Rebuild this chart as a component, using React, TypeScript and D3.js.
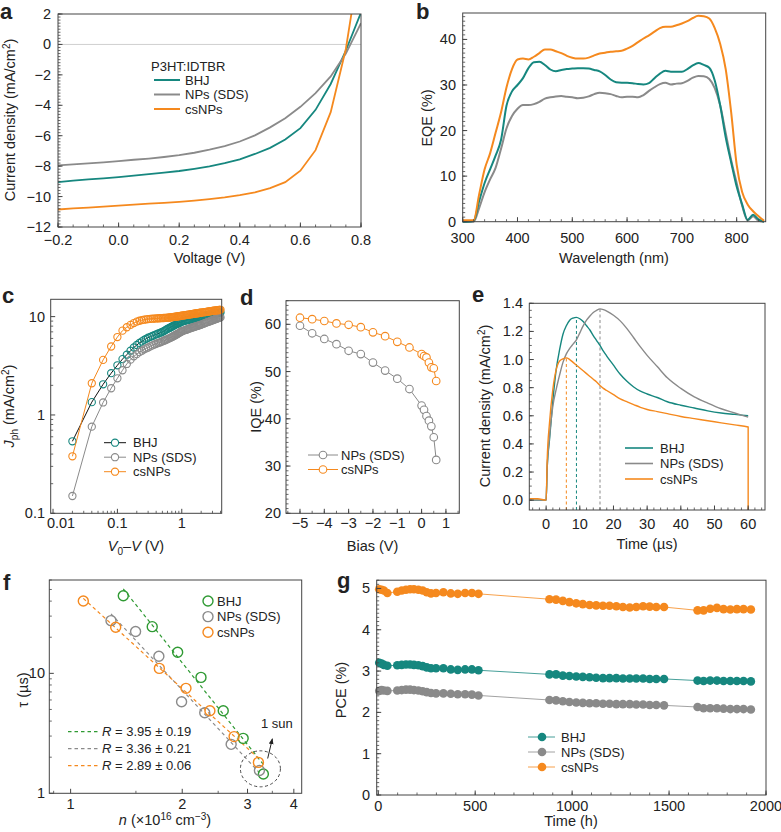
import React from "react";
import * as d3 from "d3";

const FONT = "'Liberation Sans', Arial, Helvetica, sans-serif";
const TEAL = "#16877f";
const GRAY = "#8a8a8a";
const ORANGE = "#f5891e";
const GREEN = "#2f9a33";
const AXIS = "#444";

// a: J-V curves
const voltage = [-0.2, -0.15, -0.1, -0.05, 0, 0.05, 0.1, 0.15, 0.2, 0.25, 0.3, 0.35, 0.4, 0.45, 0.5, 0.55, 0.6, 0.65, 0.7, 0.75, 0.8];
const jvBHJ = [-9.05, -8.95, -8.87, -8.8, -8.72, -8.63, -8.53, -8.43, -8.32, -8.18, -8.02, -7.8, -7.55, -7.2, -6.8, -6.25, -5.5, -4.3, -2.6, -0.4, 2.1];
const jvNPs = [-7.95, -7.88, -7.82, -7.75, -7.67, -7.58, -7.5, -7.4, -7.28, -7.12, -6.92, -6.68, -6.38, -5.98, -5.45, -4.85, -4.1, -3.2, -2.1, -0.6, 1.4];
const jvCsNPs = [-10.85, -10.78, -10.72, -10.66, -10.6, -10.53, -10.47, -10.41, -10.35, -10.27, -10.17, -10.05, -9.9, -9.72, -9.45, -9.05, -8.3, -6.95, -4.45, -0.3, 6.0];

// b: EQE spectra
const wavelength = [300, 310, 320, 330, 340, 350, 360, 370, 380, 390, 400, 410, 420, 430, 440, 450, 460, 470, 480, 490, 500, 510, 520, 530, 540, 550, 560, 570, 580, 590, 600, 610, 620, 630, 640, 650, 660, 670, 680, 690, 700, 710, 720, 730, 740, 750, 760, 770, 780, 790, 800, 810, 820, 830, 840, 850];
const eqeBHJ = [0, 0, 0.2, 4.5, 8.5, 11.5, 14.5, 18, 25.5, 28.6, 30, 31.5, 33.7, 35, 35.1, 34.4, 33.4, 33, 33.3, 33.5, 33.6, 33.7, 33.7, 33.6, 33.3, 33, 32.2, 31.2, 30.6, 30.5, 30.5, 30.4, 30.2, 30.1, 30.4, 31.5, 32.5, 33.1, 32.9, 32.9, 32.9, 33.5, 34.3, 34.8, 34.4, 33.8, 31, 25.5, 18.5, 13, 7.7, 3.8, 0.4, 1.5, 0.5, 0];
const eqeNPs = [0, 0, 0, 3, 6.5, 9.3, 11.8, 16, 20.5, 23.2, 24.8, 25.6, 25.6, 25.8, 26.3, 27, 27.3, 27.5, 27.6, 27.4, 27.3, 27.1, 27.2, 27.5, 28, 28.3, 28.2, 28, 27.6, 27.3, 27.4, 27.4, 27.3, 27.8, 28.7, 29.5, 30.2, 30.5, 30.1, 30.3, 30.4, 30.9, 31.6, 32, 31.9, 31.3, 29.3, 25.5, 19.5, 13.5, 8.5, 3.5, 0.3, 1.2, 0.2, 0];
const eqeCsNPs = [0.3, 0.3, 0.3, 6, 11.5, 15, 19.5, 24, 29.5, 33.5, 35.6, 35.8, 35.6, 36.2, 37, 37.8, 37.8, 37.4, 37, 36.4, 36, 35.8, 35.8, 36, 36.5, 36.9, 37.1, 37.3, 37.4, 37.5, 38, 38.6, 39.4, 40.2, 40.9, 41.7, 42.5, 42.8, 42.8, 43.1, 43.5, 44, 44.7, 45.2, 45.1, 44.6, 42.5, 39, 33.5, 24, 12.5, 6.5, 3.8, 2.3, 1.2, 0.2];

// c: photocurrent vs effective voltage
const effVoltage = [0.02, 0.04, 0.06, 0.08, 0.1, 0.12, 0.14, 0.16, 0.18, 0.2, 0.22, 0.24, 0.26, 0.28, 0.3,
  0.325, 0.35, 0.375, 0.4, 0.425, 0.45, 0.475, 0.5, 0.525, 0.55, 0.575, 0.6, 0.625, 0.65, 0.675, 0.7, 0.725, 0.75, 0.775, 0.8, 0.825, 0.85, 0.875, 0.9, 0.925, 0.95, 0.975, 1.0,
  1.05, 1.1, 1.15, 1.2, 1.25, 1.3, 1.35, 1.4, 1.45, 1.5, 1.55, 1.6, 1.65, 1.7, 1.75, 1.8, 1.85, 1.9, 1.95, 2.0,
  2.1, 2.2, 2.3, 2.4, 2.5, 2.6, 2.7, 2.8, 2.9, 3.0, 3.1, 3.2, 3.3, 3.4, 3.5, 3.6, 3.7, 3.8, 3.9, 4.0];
const jphBHJ = [0.54, 1.35, 2.05, 2.66, 3.2, 3.7, 4.1, 4.5, 4.85, 5.15, 5.4, 5.6, 5.8, 5.95, 6.1,
  6.22, 6.35, 6.48, 6.6, 6.7, 6.8, 6.9, 7.0, 7.12, 7.25, 7.38, 7.5, 7.6, 7.7, 7.8, 7.9, 8.0, 8.1, 8.2, 8.3, 8.38, 8.45, 8.52, 8.6, 8.68, 8.75, 8.82, 8.9,
  8.98, 9.05, 9.12, 9.2, 9.25, 9.3, 9.36, 9.42, 9.47, 9.52, 9.57, 9.62, 9.67, 9.72, 9.77, 9.82, 9.86, 9.9, 9.94, 9.98,
  10.06, 10.13, 10.2, 10.27, 10.33, 10.39, 10.45, 10.5, 10.55, 10.6, 10.65, 10.7, 10.74, 10.78, 10.82, 10.86, 10.9, 10.94, 10.97, 11.0];
const jphNPs = [0.15, 0.76, 1.34, 1.87, 2.36, 2.85, 3.3, 3.65, 3.95, 4.15, 4.35, 4.5, 4.65, 4.75, 4.85,
  4.98, 5.1, 5.2, 5.3, 5.38, 5.45, 5.52, 5.6, 5.68, 5.75, 5.82, 5.9, 5.98, 6.05, 6.12, 6.2, 6.28, 6.35, 6.42, 6.5, 6.58, 6.65, 6.72, 6.8, 6.88, 6.95, 7.02, 7.1,
  7.18, 7.25, 7.32, 7.4, 7.48, 7.55, 7.62, 7.7, 7.75, 7.8, 7.85, 7.9, 7.95, 8.0, 8.05, 8.1, 8.15, 8.2, 8.25, 8.3,
  8.4, 8.5, 8.6, 8.7, 8.78, 8.86, 8.94, 9.02, 9.1, 9.18, 9.26, 9.33, 9.4, 9.47, 9.53, 9.6, 9.66, 9.72, 9.77, 9.82];
const jphCsNPs = [0.38, 2.1, 3.63, 4.97, 6.2, 7.2, 7.8, 8.25, 8.6, 8.9, 9.08, 9.2, 9.3, 9.38, 9.44,
  9.48, 9.52, 9.55, 9.58, 9.6, 9.62, 9.64, 9.66, 9.68, 9.7, 9.72, 9.75, 9.78, 9.8, 9.83, 9.86, 9.89, 9.92, 9.95, 9.98, 10.01, 10.04, 10.07, 10.1, 10.13, 10.16, 10.19, 10.22,
  10.27, 10.32, 10.37, 10.42, 10.46, 10.5, 10.54, 10.58, 10.62, 10.66, 10.7, 10.74, 10.77, 10.8, 10.83, 10.86, 10.89, 10.92, 10.95, 10.98,
  11.03, 11.08, 11.13, 11.18, 11.23, 11.27, 11.31, 11.35, 11.39, 11.43, 11.47, 11.5, 11.53, 11.56, 11.59, 11.62, 11.65, 11.68, 11.7, 11.73];

// d: IQE vs bias
const bias = [-5, -4.5, -4, -3.5, -3, -2.5, -2, -1.5, -1, -0.5, 0, 0.1, 0.2, 0.3, 0.4, 0.5, 0.6];
const iqeNPs = [59.7, 58.1, 56.9, 55.8, 54.4, 53.7, 51.9, 50.2, 48.5, 46.3, 42.8, 41.9, 40.6, 39.6, 38.4, 36.1, 31.3];
const iqeCsNPs = [61.4, 61.1, 60.7, 60.2, 59.9, 59.4, 58.3, 57.5, 56.3, 55.1, 53.7, 53.3, 53.0, 51.9, 50.9, 50.7, 48.0];

// e: transient photocurrent
const timeUs = [-5, -2.5, 0, 0.3, 1, 2, 3, 4, 5, 6, 7, 8, 9, 10, 11, 12, 13, 14, 15, 16, 17, 18, 20, 22, 24, 26, 28, 30, 33, 36, 40, 44, 48, 52, 56, 60];
const tpcBHJ = [0, 0, 0, 0.22, 0.43, 0.71, 0.93, 1.07, 1.18, 1.24, 1.28, 1.295, 1.3, 1.29, 1.27, 1.24, 1.21, 1.17, 1.135, 1.1, 1.06, 1.025, 0.96, 0.895, 0.845, 0.805, 0.775, 0.755, 0.73, 0.7, 0.675, 0.655, 0.635, 0.62, 0.61, 0.6];
const tpcNPs = [0, 0, 0, 0.22, 0.45, 0.67, 0.79, 0.89, 0.98, 1.04, 1.08, 1.11, 1.14, 1.19, 1.24, 1.28, 1.31, 1.335, 1.35, 1.36, 1.355, 1.345, 1.315, 1.275, 1.22, 1.155, 1.09, 1.03, 0.95, 0.87, 0.795, 0.735, 0.69, 0.65, 0.62, 0.59];
const tpcCsNPs = [0.01, 0.01, 0, 0.28, 0.55, 0.79, 0.93, 0.99, 1.005, 1.012, 1.0, 0.98, 0.96, 0.94, 0.92, 0.9, 0.88, 0.86, 0.84, 0.815, 0.795, 0.78, 0.75, 0.72, 0.7, 0.68, 0.66, 0.645, 0.63, 0.615, 0.595, 0.58, 0.565, 0.55, 0.535, 0.52];
const tpcOffLevel = -0.07;

// f: lifetime vs carrier density
const nBHJ = [1.387, 1.66, 1.944, 2.247, 2.58, 2.92, 3.31];
const tauBHJ = [44.4, 24.5, 15.0, 9.25, 4.88, 2.87, 1.45];
const nNPs = [1.285, 1.497, 1.73, 1.992, 2.3, 2.71, 3.23];
const tauNPs = [27.5, 22.3, 13.9, 5.8, 4.7, 2.56, 1.55];
const nCsNPs = [1.082, 1.323, 1.735, 2.047, 2.375, 2.76, 3.21];
const tauCsNPs = [40.1, 24.2, 11.0, 7.5, 4.88, 2.97, 1.81];
const fitLabels = ["3.95 \u00b1 0.19", "3.36 \u00b1 0.21", "2.89 \u00b1 0.06"];

// g: stability
const timeH = [5, 17, 29, 47, 98, 121, 143, 164, 184, 207, 229, 250, 272, 298, 336, 374, 410, 448, 483, 517,
  883, 917, 952, 986, 1021, 1055, 1090, 1124, 1159, 1193, 1228, 1262, 1297, 1331, 1366, 1400, 1434, 1474,
  1647, 1678, 1712, 1747, 1781, 1816, 1850, 1884, 1922];
const pceBHJ = [3.2, 3.18, 3.15, 3.13, 3.14, 3.15, 3.16, 3.16, 3.15, 3.14, 3.12, 3.09, 3.07, 3.07, 3.07, 3.04, 3.03, 3.04, 3.04, 3.02,
  2.92, 2.92, 2.89, 2.88, 2.87, 2.86, 2.85, 2.84, 2.83, 2.83, 2.83, 2.82, 2.82, 2.82, 2.82, 2.81, 2.81, 2.81,
  2.77, 2.76, 2.77, 2.77, 2.76, 2.76, 2.76, 2.76, 2.75];
const pceNPs = [2.52, 2.54, 2.53, 2.52, 2.53, 2.54, 2.55, 2.55, 2.54, 2.53, 2.51, 2.49, 2.47, 2.46, 2.46, 2.45, 2.44, 2.44, 2.43, 2.41,
  2.3, 2.29, 2.27, 2.25, 2.24, 2.23, 2.22, 2.22, 2.21, 2.21, 2.2, 2.2, 2.2, 2.19, 2.19, 2.18, 2.18, 2.17,
  2.13, 2.1, 2.1, 2.1, 2.09, 2.08, 2.08, 2.08, 2.07];
const pceCsNPs = [4.98, 4.97, 4.95, 4.89, 4.92, 4.95, 4.97, 4.98, 4.98, 4.97, 4.95, 4.91, 4.88, 4.89, 4.91, 4.88, 4.87, 4.89, 4.89, 4.87,
  4.74, 4.73, 4.7, 4.67, 4.64, 4.62, 4.6, 4.59, 4.58, 4.58, 4.57, 4.55, 4.54, 4.55, 4.57, 4.56, 4.55, 4.55,
  4.47, 4.47, 4.51, 4.53, 4.5, 4.49, 4.5, 4.5, 4.49];

const zip = (xs: number[], ys: number[]) => xs.map((x, i) => [x, ys[i]] as [number, number]);
const fmt = (v: number, d = 0) => (v < 0 ? "\u2212" : "") + Math.abs(v).toFixed(d);
const steps = (a: number, b: number, s: number) => d3.range(a, b + s / 2, s);
const logMinor = (lo: number, hi: number) => {
  const out: number[] = [];
  for (let e = -3; e <= 3; e++) for (let m = 2; m <= 9; m++) {
    const v = m * Math.pow(10, e);
    if (v >= lo && v <= hi) out.push(v);
  }
  return out;
};

function Frame({ x, y, xMajor, xMinor, yMajor, yMinor, xFmt, yFmt, xLabelY, yLabelX, xShift }: any) {
  const [x0, x1] = x.range();
  const [y0, y1] = y.range();
  const shift = xShift || (() => 0);
  return (
    <g>
      <rect x={x0} y={y1} width={x1 - x0} height={y0 - y1} fill="none" stroke={AXIS} strokeWidth={1} />
      {xMinor.map((v: number, i: number) => <line key={"xm" + i} x1={x(v)} x2={x(v)} y1={y0} y2={y0 - 2.5} stroke={AXIS} strokeWidth={0.8} />)}
      {xMajor.map((v: number, i: number) => <line key={"xM" + i} x1={x(v)} x2={x(v)} y1={y0} y2={y0 - 4.5} stroke={AXIS} strokeWidth={1} />)}
      {yMinor.map((v: number, i: number) => <line key={"ym" + i} x1={x0} x2={x0 + 2.5} y1={y(v)} y2={y(v)} stroke={AXIS} strokeWidth={0.8} />)}
      {yMajor.map((v: number, i: number) => <line key={"yM" + i} x1={x0} x2={x0 + 4.5} y1={y(v)} y2={y(v)} stroke={AXIS} strokeWidth={1} />)}
      {xMajor.map((v: number, i: number) => (
        <text key={"xt" + i} x={x(v) + shift(v)} y={xLabelY} textAnchor="middle" fontSize={14.5}>{xFmt(v)}</text>
      ))}
      {yMajor.map((v: number, i: number) => (
        <text key={"yt" + i} x={yLabelX} y={y(v) + 5} textAnchor="end" fontSize={14.5}>{yFmt(v)}</text>
      ))}
    </g>
  );
}

function fitLine(ns: number[], taus: number[]) {
  const X = ns.map(Math.log10), Y = taus.map(Math.log10);
  const mx = d3.mean(X) as number, my = d3.mean(Y) as number;
  const slope = d3.sum(X.map((v, i) => (v - mx) * (Y[i] - my))) / d3.sum(X.map(v => (v - mx) ** 2));
  const b = my - slope * mx;
  const n0 = d3.min(ns) as number, n1 = d3.max(ns) as number;
  return [n0, n1].map(n => [n, Math.pow(10, b + slope * Math.log10(n))] as [number, number]);
}

export default function App() {
  // scales
  const xA = d3.scaleLinear().domain([-0.2, 0.8]).range([58, 361]);
  const yA = d3.scaleLinear().domain([-12, 2]).range([227, 14]);
  const xB = d3.scaleLinear().domain([300, 853]).range([462.7, 765.7]);
  const yB = d3.scaleLinear().domain([0, 45.8]).range([221.7, 13]);
  const xC = d3.scaleLog().domain([0.0092, 4.17]).range([50.7, 221.7]);
  const yC = d3.scaleLog().domain([0.1, 15]).range([513.3, 299.3]);
  const xD = d3.scaleLinear().domain([-5.575, 1.55]).range([286, 459.3]);
  const yD = d3.scaleLinear().domain([20, 65]).range([513.3, 300.7]);
  const xE = d3.scaleLinear().domain([-5, 65]).range([529.3, 765]);
  const yE = d3.scaleLinear().domain([tpcOffLevel, 1.4]).range([510, 303.3]);
  const xF = d3.scaleLog().domain([0.876, 4.2]).range([49.3, 301.7]);
  const yF = d3.scaleLog().domain([1, 60]).range([793.3, 580]);
  const xG = d3.scaleLinear().domain([-8, 2000]).range([376.7, 766]);
  const yG = d3.scaleLinear().domain([0, 5.2]).range([795, 580.2]);

  const lineA = d3.line<[number, number]>().x(d => xA(d[0])).y(d => yA(d[1]));
  const lineB = d3.line<[number, number]>().x(d => xB(d[0])).y(d => yB(d[1])).curve(d3.curveMonotoneX);
  const lineC = d3.line<[number, number]>().x(d => xC(d[0])).y(d => yC(d[1]));
  const lineD = d3.line<[number, number]>().x(d => xD(d[0])).y(d => yD(d[1]));
  const lineE = d3.line<[number, number]>().x(d => xE(d[0])).y(d => yE(d[1])).curve(d3.curveMonotoneX);
  const lineF = d3.line<[number, number]>().x(d => xF(d[0])).y(d => yF(d[1]));
  const lineG = d3.line<[number, number]>().x(d => xG(d[0])).y(d => yG(d[1]));

  const seriesA = [
    { name: "BHJ", color: TEAL, v: jvBHJ },
    { name: "NPs (SDS)", color: GRAY, v: jvNPs },
    { name: "csNPs", color: ORANGE, v: jvCsNPs },
  ];
  const seriesB = [
    { color: GRAY, v: eqeNPs },
    { color: TEAL, v: eqeBHJ },
    { color: ORANGE, v: eqeCsNPs },
  ];
  const seriesC = [
    { name: "BHJ", color: TEAL, line: "#111", v: jphBHJ },
    { name: "NPs (SDS)", color: GRAY, line: GRAY, v: jphNPs },
    { name: "csNPs", color: ORANGE, line: ORANGE, v: jphCsNPs },
  ];
  const seriesD = [
    { name: "NPs (SDS)", color: GRAY, v: iqeNPs },
    { name: "csNPs", color: ORANGE, v: iqeCsNPs },
  ];
  const seriesE = [
    { name: "BHJ", color: TEAL, v: tpcBHJ },
    { name: "NPs (SDS)", color: GRAY, v: tpcNPs },
    { name: "csNPs", color: ORANGE, v: tpcCsNPs },
  ];
  const seriesF = [
    { name: "BHJ", color: GREEN, n: nBHJ, t: tauBHJ },
    { name: "NPs (SDS)", color: GRAY, n: nNPs, t: tauNPs },
    { name: "csNPs", color: ORANGE, n: nCsNPs, t: tauCsNPs },
  ];
  const seriesG = [
    { name: "BHJ", color: TEAL, v: pceBHJ },
    { name: "NPs (SDS)", color: GRAY, v: pceNPs },
    { name: "csNPs", color: ORANGE, v: pceCsNPs },
  ];

  const sup = (s: string) => <tspan dy={-5} fontSize={10}>{s}</tspan>;

  return (
    <svg width={781} height={832} viewBox="0 0 781 832" style={{ position: "absolute", left: 0, top: 0 }}
      fontFamily={FONT} fill="#222">
      <defs>
        <clipPath id="clipA"><rect x={58} y={14} width={303} height={213} /></clipPath>
        <clipPath id="clipE"><rect x={529.3} y={303.3} width={235.7} height={206.7} /></clipPath>
        <marker id="arrow" viewBox="0 0 10 10" refX={9} refY={5} markerWidth={6} markerHeight={6} orient="auto">
          <path d="M0,1 L10,5 L0,9 z" fill="#222" />
        </marker>
      </defs>

      {/* panel letters */}
      <g fontWeight="bold" fontSize={22}>
        <text x={0} y={19}>a</text>
        <text x={416} y={19}>b</text>
        <text x={2} y={303}>c</text>
        <text x={240} y={305}>d</text>
        <text x={472} y={302}>e</text>
        <text x={3} y={590}>f</text>
        <text x={337} y={588}>g</text>
      </g>

      {/* ===== a ===== */}
      <line x1={58} x2={361} y1={yA(0)} y2={yA(0)} stroke="#cfcfcf" strokeWidth={1} />
      <g clipPath="url(#clipA)">
        {seriesA.map(s => (
          <path key={s.name} d={lineA(zip(voltage, s.v)) as string} fill="none" stroke={s.color} strokeWidth={1.8} />
        ))}
      </g>
      <Frame x={xA} y={yA} xMajor={steps(-0.2, 0.8, 0.2)} xMinor={steps(-0.2, 0.8, 0.05)}
        yMajor={steps(-12, 2, 2)} yMinor={steps(-12, 2, 0.2)} xFmt={(v: number) => fmt(v, 1)} yFmt={(v: number) => fmt(v)}
        xLabelY={245} yLabelX={51} />
      <text x={209.5} y={263} textAnchor="middle" fontSize={14.5}>Voltage (V)</text>
      <text transform="translate(15,120) rotate(-90)" textAnchor="middle" fontSize={14.5}>
        Current density (mA/cm{sup("2")}<tspan dy={5}>)</tspan>
      </text>
      <text x={151} y={71} fontSize={13}>P3HT:IDTBR</text>
      {seriesA.map((s, i) => (
        <g key={s.name}>
          <line x1={154} x2={180} y1={80 + i * 14.5} y2={80 + i * 14.5} stroke={s.color} strokeWidth={2} />
          <text x={185} y={80 + i * 14.5 + 4.5} fontSize={13}>{s.name}</text>
        </g>
      ))}

      {/* ===== b ===== */}
      {seriesB.map((s, i) => (
        <path key={i} d={lineB(zip(wavelength, s.v)) as string} fill="none" stroke={s.color} strokeWidth={2} />
      ))}
      <Frame x={xB} y={yB} xMajor={steps(300, 800, 100)} xMinor={steps(300, 850, 20)}
        yMajor={steps(0, 40, 10)} yMinor={steps(0, 45, 1)} xFmt={(v: number) => fmt(v)} yFmt={(v: number) => fmt(v)}
        xLabelY={243} yLabelX={456} />
      <text x={614} y={263} textAnchor="middle" fontSize={14.5}>Wavelength (nm)</text>
      <text transform="translate(432,118) rotate(-90)" textAnchor="middle" fontSize={14.5}>EQE (%)</text>

      {/* ===== c ===== */}
      {seriesC.map(s => (
        <g key={s.name}>
          <path d={lineC(zip(effVoltage, s.v)) as string} fill="none" stroke={s.line} strokeWidth={1} />
          {s.v.map((v, i) => (
            <circle key={i} cx={xC(effVoltage[i])} cy={yC(v)} r={3.6} fill="none" stroke={s.color} strokeWidth={1.1} />
          ))}
        </g>
      ))}
      <Frame x={xC} y={yC} xMajor={[0.01, 0.1, 1]} xMinor={logMinor(0.0092, 4.17)}
        yMajor={[0.1, 1, 10]} yMinor={logMinor(0.1, 15)} xFmt={(v: number) => String(v)} yFmt={(v: number) => String(v)}
        xLabelY={528} yLabelX={45} xShift={(v: number) => (v === 0.01 ? 8 : 0)} />
      <text x={136} y={551} textAnchor="middle" fontSize={14.5}>
        <tspan fontStyle="italic">V</tspan><tspan dy={4} fontSize={10}>0</tspan><tspan dy={-4}>{"\u2013"}</tspan>
        <tspan fontStyle="italic">V</tspan> (V)
      </text>
      <text transform="translate(14,406) rotate(-90)" textAnchor="middle" fontSize={14.5}>
        <tspan fontStyle="italic">J</tspan><tspan dy={4} fontSize={10}>ph</tspan><tspan dy={-4}> (mA/cm</tspan>{sup("2")}<tspan dy={5}>)</tspan>
      </text>
      {seriesC.map((s, i) => (
        <g key={s.name}>
          <line x1={104} x2={126} y1={442.7 + i * 14.5} y2={442.7 + i * 14.5} stroke={s.line} strokeWidth={1} />
          <circle cx={115} cy={442.7 + i * 14.5} r={3.6} fill="white" stroke={s.color} strokeWidth={1.1} />
          <text x={133} y={442.7 + i * 14.5 + 4.5} fontSize={13}>{s.name}</text>
        </g>
      ))}

      {/* ===== d ===== */}
      {seriesD.map(s => (
        <g key={s.name}>
          <path d={lineD(zip(bias, s.v)) as string} fill="none" stroke={s.color} strokeWidth={1} />
          {s.v.map((v, i) => (
            <circle key={i} cx={xD(bias[i])} cy={yD(v)} r={3.8} fill="white" stroke={s.color} strokeWidth={1.1} />
          ))}
        </g>
      ))}
      <Frame x={xD} y={yD} xMajor={steps(-5, 1, 1)} xMinor={steps(-5.5, 1.5, 0.5)}
        yMajor={steps(20, 60, 10)} yMinor={steps(20, 65, 1)} xFmt={(v: number) => fmt(v)} yFmt={(v: number) => fmt(v)}
        xLabelY={528} yLabelX={281} />
      <text x={372.6} y={551} textAnchor="middle" fontSize={14.5}>Bias (V)</text>
      <text transform="translate(261,407) rotate(-90)" textAnchor="middle" fontSize={14.5}>IQE (%)</text>
      {seriesD.map((s, i) => (
        <g key={s.name}>
          <line x1={308} x2={338} y1={455 + i * 14.5} y2={455 + i * 14.5} stroke={s.color} strokeWidth={1} />
          <circle cx={323} cy={455 + i * 14.5} r={3.8} fill="white" stroke={s.color} strokeWidth={1.1} />
          <text x={341} y={455 + i * 14.5 + 4.5} fontSize={13}>{s.name}</text>
        </g>
      ))}

      {/* ===== e ===== */}
      {seriesE.map(s => {
        const i = d3.maxIndex(s.v);
        return (
          <line key={"pk" + s.name} x1={xE(timeUs[i])} x2={xE(timeUs[i])} y1={yE(tpcOffLevel)} y2={yE(s.v[i])}
            stroke={s.color} strokeWidth={1} strokeDasharray="3,2.5" />
        );
      })}
      <g clipPath="url(#clipE)">
        {seriesE.map(s => {
          const pts = zip(timeUs, s.v);
          if (s.name === "csNPs") pts.push([timeUs[timeUs.length - 1], tpcOffLevel]);
          return <path key={s.name} d={lineE(pts) as string} fill="none" stroke={s.color} strokeWidth={1.4} />;
        })}
      </g>
      <Frame x={xE} y={yE} xMajor={steps(0, 60, 10)} xMinor={steps(-4, 64, 2)}
        yMajor={steps(0, 1.4, 0.2)} yMinor={steps(0, 1.4, 0.05)} xFmt={(v: number) => fmt(v)} yFmt={(v: number) => fmt(v, 1)}
        xLabelY={529} yLabelX={523} />
      <text x={647} y={549} textAnchor="middle" fontSize={14.5}>Time ({"\u00b5"}s)</text>
      <text transform="translate(490,406) rotate(-90)" textAnchor="middle" fontSize={14.5}>
        Current density (mA/cm{sup("2")}<tspan dy={5}>)</tspan>
      </text>
      {seriesE.map((s, i) => (
        <g key={s.name}>
          <line x1={625} x2={653} y1={448 + i * 15.5} y2={448 + i * 15.5} stroke={s.color} strokeWidth={1.6} />
          <text x={660} y={448 + i * 15.5 + 4.5} fontSize={13}>{s.name}</text>
        </g>
      ))}

      {/* ===== f ===== */}
      {seriesF.map(s => (
        <path key={"fit" + s.name} d={lineF(fitLine(s.n, s.t)) as string} fill="none" stroke={s.color}
          strokeWidth={1.2} strokeDasharray="3.5,3" />
      ))}
      {seriesF.map(s => (
        <g key={s.name}>
          {s.n.map((n, i) => (
            <circle key={i} cx={xF(n)} cy={yF(s.t[i])} r={5} fill="none" stroke={s.color} strokeWidth={1.4} />
          ))}
        </g>
      ))}
      <ellipse cx={xF(3.25)} cy={yF(1.6)} rx={20} ry={18} fill="none" stroke="#333" strokeWidth={0.9} strokeDasharray="3,2.5" />
      <line x1={xF(3.4)} y1={yF(1.95)} x2={xF(3.5)} y2={yF(2.85)} stroke="#222" strokeWidth={1} markerEnd="url(#arrow)" />
      <text x={xF(3.6)} y={yF(3.5)} textAnchor="middle" fontSize={13}>1 sun</text>
      <Frame x={xF} y={yF} xMajor={[1, 2, 3, 4]} xMinor={[0.9, 1.5, 2.5, 3.5]}
        yMajor={[1, 10]} yMinor={logMinor(1, 60)} xFmt={(v: number) => String(v)} yFmt={(v: number) => String(v)}
        xLabelY={809} yLabelX={45} />
      <text x={165} y={825} textAnchor="middle" fontSize={14.5}>
        <tspan fontStyle="italic">n</tspan> ({"\u00d7"}10{sup("16")}<tspan dy={5}> cm</tspan>{sup("\u22123")}<tspan dy={5}>)</tspan>
      </text>
      <text transform="translate(28,690) rotate(-90)" textAnchor="middle" fontSize={14.5}>{"\u03c4"} ({"\u00b5"}s)</text>
      {seriesF.map((s, i) => (
        <g key={"lg" + s.name}>
          <circle cx={208} cy={601 + i * 15.6} r={5} fill="none" stroke={s.color} strokeWidth={1.4} />
          <text x={217} y={601 + i * 15.6 + 4.5} fontSize={13}>{s.name}</text>
          <line x1={68} x2={100} y1={731.7 + i * 17} y2={731.7 + i * 17} stroke={s.color} strokeWidth={1.2} strokeDasharray="3.5,3" />
          <text x={102} y={731.7 + i * 17 + 4.5} fontSize={13}>
            <tspan fontStyle="italic">R</tspan> = {fitLabels[i]}
          </text>
        </g>
      ))}

      {/* ===== g ===== */}
      {seriesG.map(s => (
        <g key={s.name}>
          <path d={lineG(zip(timeH, s.v)) as string} fill="none" stroke={s.color} strokeWidth={0.8} />
          {s.v.map((v, i) => (
            <circle key={i} cx={xG(timeH[i])} cy={yG(v)} r={4.3} fill={s.color} />
          ))}
        </g>
      ))}
      <Frame x={xG} y={yG} xMajor={steps(0, 2000, 500)} xMinor={steps(0, 2000, 100)}
        yMajor={steps(0, 5, 1)} yMinor={steps(0, 5.2, 0.1)} xFmt={(v: number) => fmt(v)} yFmt={(v: number) => fmt(v)}
        xLabelY={811} yLabelX={370} />
      <text x={571} y={826} textAnchor="middle" fontSize={14.5}>Time (h)</text>
      <text transform="translate(346,690) rotate(-90)" textAnchor="middle" fontSize={14.5}>PCE (%)</text>
      {seriesG.map((s, i) => (
        <g key={"lg" + s.name}>
          <line x1={528} x2={555} y1={737 + i * 15} y2={737 + i * 15} stroke={s.color} strokeWidth={0.8} />
          <circle cx={542} cy={737 + i * 15} r={4.3} fill={s.color} />
          <text x={561} y={737 + i * 15 + 4.5} fontSize={13}>{s.name}</text>
        </g>
      ))}
    </svg>
  );
}
